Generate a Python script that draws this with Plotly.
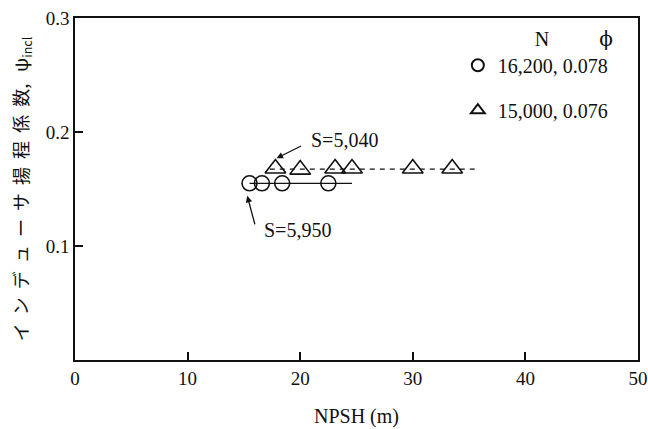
import plotly.graph_objects as go

# Data
circle_npsh = [15.5, 16.6, 18.4, 22.5]
circle_psi = [0.155, 0.155, 0.155, 0.155]
circle_line_npsh = [15.5, 24.6]
circle_line_psi = [0.155, 0.155]

tri_npsh = [17.8, 20.0, 23.1, 24.6, 30.0, 33.5]
tri_psi = [0.168, 0.167, 0.168, 0.168, 0.168, 0.168]
tri_line_npsh = [17.3, 35.5]
tri_line_psi = [0.1675, 0.1675]

series_labels = ["16,200, 0.078", "15,000, 0.076"]
x_ticks = [0, 10, 20, 30, 40, 50]
y_ticks = [0.1, 0.2, 0.3]

serif = "Liberation Serif, Times New Roman, serif"
black = "#111111"

fig = go.Figure()
fig.add_trace(go.Scatter(x=circle_line_npsh, y=circle_line_psi, mode="lines",
                         line=dict(color=black, width=1.3), showlegend=False))
fig.add_trace(go.Scatter(x=tri_line_npsh, y=tri_line_psi, mode="lines",
                         line=dict(color=black, width=1.3, dash="5px,5px"), showlegend=False))
fig.add_trace(go.Scatter(x=circle_npsh, y=circle_psi, mode="markers", name=series_labels[0],
                         legendgroup="a",
                         marker=dict(symbol="circle-open", size=15, color=black, line=dict(width=1.6))))
fig.add_trace(go.Scatter(x=tri_npsh, y=tri_psi, mode="markers", name=series_labels[1],
                         legendgroup="b",
                         marker=dict(symbol="triangle-up-open", size=18, color=black, line=dict(width=1.6))))

fig.update_layout(
    width=648, height=429,
    margin=dict(l=75, r=10, t=18, b=69),
    paper_bgcolor="white", plot_bgcolor="white",
    font=dict(family=serif, size=19, color=black),
    showlegend=True,
    legend=dict(x=0.68, y=0.995, xanchor="left", yanchor="top",
                bgcolor="rgba(0,0,0,0)", font=dict(family=serif, size=20),
                title=dict(text="               N          <span style=\"font-family:DejaVu Serif\">ϕ</span>",
                           font=dict(family=serif, size=20)),
                tracegroupgap=16, itemsizing="constant"),
    xaxis=dict(range=[0, 50], tickvals=x_ticks, ticks="inside", ticklen=8, tickwidth=1.5,
               tickcolor=black, showline=True, linecolor=black, linewidth=1.5, mirror=True,
               showgrid=False, zeroline=False, automargin=False,
               title=dict(text="NPSH (m)", font=dict(family=serif, size=20), standoff=21),
               tickfont=dict(family=serif, size=19)),
    yaxis=dict(range=[0, 0.3], tickvals=y_ticks, ticktext=["0.1", "0.2", "0.3"],
               ticks="inside", ticklen=8, tickwidth=1.5, tickcolor=black,
               showline=True, linecolor=black, linewidth=1.5, mirror=True,
               showgrid=False, zeroline=False, automargin=False,
               title=dict(text="イ  ン  デ  ュ  ー  サ  揚  程  係  数,   ψ<sub>incl</sub>",
                          font=dict(family="Noto Sans CJK JP", size=18), standoff=12),
               tickfont=dict(family=serif, size=19)),
)

# annotations
fig.add_annotation(x=20.8, y=0.193, text="S=5,040", showarrow=False,
                   font=dict(family=serif, size=20), xanchor="left", yanchor="middle")
fig.add_annotation(x=17.9, y=0.177, ax=26, ay=-13, text="", showarrow=True,
                   arrowhead=2, arrowsize=1, arrowwidth=1.3, arrowcolor=black)
fig.add_annotation(x=16.6, y=0.114, text="S=5,950", showarrow=False,
                   font=dict(family=serif, size=20), xanchor="left", yanchor="middle")
fig.add_annotation(x=15.3, y=0.144, ax=8, ay=30, text="", showarrow=True,
                   arrowhead=2, arrowsize=1, arrowwidth=1.3, arrowcolor=black)

fig.write_html("out.html", config={"displayModeBar": False},
               post_script="document.body.style.margin='0';document.body.style.overflow='hidden';")
